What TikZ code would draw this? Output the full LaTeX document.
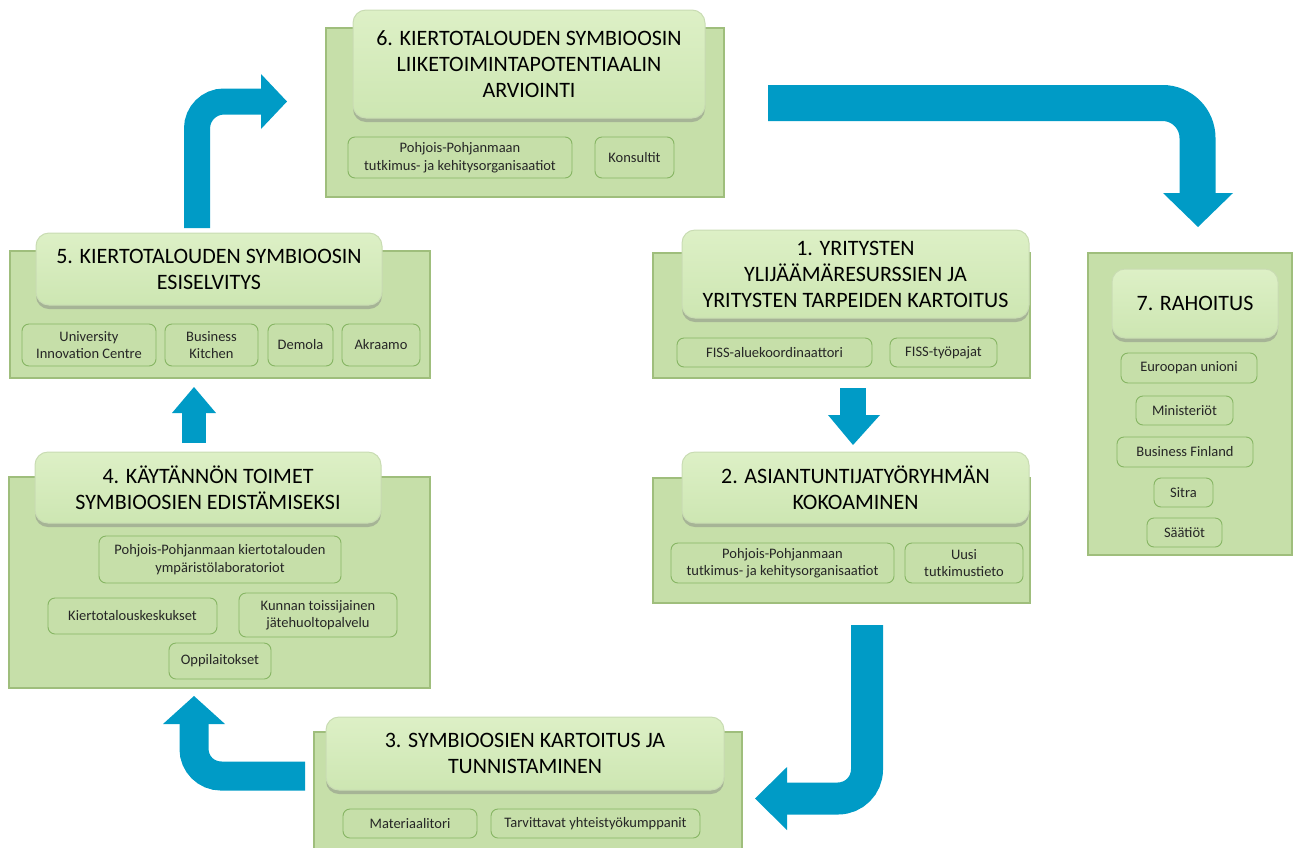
\documentclass[tikz,border=0pt]{standalone}
\usepackage{fontspec}
\setmainfont{Carlito}
\usetikzlibrary{fit,shadows}
\definecolor{panelfill}{HTML}{C6DFA9}
\definecolor{paneldraw}{HTML}{9FBE7C}
\definecolor{titletop}{HTML}{DDF0C6}
\definecolor{titlebot}{HTML}{CDE6B2}
\definecolor{titledraw}{HTML}{C9DCB3}
\definecolor{subdraw}{HTML}{86B563}
\definecolor{arrowblue}{HTML}{009BC6}
\tikzset{
  panel/.style={draw=paneldraw, line width=1.2pt, fill=panelfill, inner sep=0pt},
  titlebox/.style={draw=titledraw, line width=1pt, top color=titletop, bottom color=titlebot,
    rounded corners=13pt, inner sep=0pt, align=center, text=black,
    font=\fontsize{22}{26}\selectfont,
    drop shadow={opacity=0.45, shadow xshift=0pt, shadow yshift=-4pt}},
  subbox/.style={draw=subdraw, line width=0.9pt, fill=panelfill, rounded corners=7pt,
    inner sep=0pt, align=center, text=black!85, font=\fontsize{14.5}{17.5}\selectfont},
  shaft/.style={draw=arrowblue, line cap=butt},
  head/.style={fill=arrowblue, draw=none}
}
\begin{document}
\begin{tikzpicture}[x=1pt,y=-1pt]
\useasboundingbox (0,0) rectangle (1293,847);

% ---------- panels ----------
\node[panel, fit={(326,28)(724,197)}] (p6) {};
\node[panel, fit={(10,251)(430,378)}] (p5) {};
\node[panel, fit={(653,253)(1030,378)}] (p1) {};
\node[panel, fit={(1088,253)(1292,555)}] (p7) {};
\node[panel, fit={(9,477)(430,688)}] (p4) {};
\node[panel, fit={(653,478)(1030,603)}] (p2) {};
\node[panel, fit={(314,732)(742,870)}] (p3) {};

% ---------- titles ----------
\node[titlebox, fit={(353,10)(705,118)}] (t6) {};
\node at (t6.center) [align=center, font=\fontsize{22}{26}\selectfont] {6. KIERTOTALOUDEN SYMBIOOSIN\\LIIKETOIMINTAPOTENTIAALIN\\ARVIOINTI};
\node[titlebox, fit={(36,233)(382,305)}] (t5) {};
\node at (t5.center) [align=center, font=\fontsize{22}{26}\selectfont] {5. KIERTOTALOUDEN SYMBIOOSIN\\ESISELVITYS};
\node[titlebox, fit={(682,230)(1029,318)}] (t1) {};
\node at (t1.center) [align=center, font=\fontsize{22}{26}\selectfont] {1. YRITYSTEN\\YLIJÄÄMÄRESURSSIEN JA\\YRITYSTEN TARPEIDEN KARTOITUS};
\node[titlebox, fit={(1112,269)(1278,338)}] (t7) {};
\node at (t7.center) [font=\fontsize{22}{26}\selectfont] {7. RAHOITUS};
\node[titlebox, fit={(35,452)(381,523)}] (t4) {};
\node at (t4.center) [align=center, font=\fontsize{22}{26}\selectfont] {4. KÄYTÄNNÖN TOIMET\\SYMBIOOSIEN EDISTÄMISEKSI};
\node[titlebox, fit={(682,452)(1029,523)}] (t2) {};
\node at (t2.center) [align=center, font=\fontsize{22}{26}\selectfont] {2. ASIANTUNTIJATYÖRYHMÄN\\KOKOAMINEN};
\node[titlebox, fit={(326,717)(724,790)}] (t3) {};
\node at (t3.center) [align=center, font=\fontsize{22}{26}\selectfont] {3. SYMBIOOSIEN KARTOITUS JA\\TUNNISTAMINEN};

% ---------- sub boxes ----------
\node[subbox, fit={(348,137)(572,178)}] (s6a) {};
\node at (s6a.center) [subbox, draw=none, fill=none] {Pohjois-Pohjanmaan\\tutkimus- ja kehitysorganisaatiot};
\node[subbox, fit={(595,137)(674,178)}] (s6b) {};
\node at (s6b.center) [subbox, draw=none, fill=none] {Konsultit};

\node[subbox, fit={(22,324)(156,366)}] (s5a) {};
\node at (s5a.center) [subbox, draw=none, fill=none] {University\\Innovation Centre};
\node[subbox, fit={(165,324)(258,366)}] (s5b) {};
\node at (s5b.center) [subbox, draw=none, fill=none] {Business\\Kitchen};
\node[subbox, fit={(268,324)(333,366)}] (s5c) {};
\node at (s5c.center) [subbox, draw=none, fill=none] {Demola};
\node[subbox, fit={(342,324)(420,366)}] (s5d) {};
\node at (s5d.center) [subbox, draw=none, fill=none] {Akraamo};

\node[subbox, fit={(677,338)(872,367)}] (s1a) {};
\node at (s1a.center) [subbox, draw=none, fill=none] {FISS-aluekoordinaattori};
\node[subbox, fit={(890,338)(997,367)}] (s1b) {};
\node at (s1b.center) [subbox, draw=none, fill=none] {FISS-työpajat};

\node[subbox, fit={(1121,353)(1257,383)}] (s7a) {};
\node at (s7a.center) [subbox, draw=none, fill=none] {Euroopan unioni};
\node[subbox, fit={(1136,396)(1233,425)}] (s7b) {};
\node at (s7b.center) [subbox, draw=none, fill=none] {Ministeriöt};
\node[subbox, fit={(1117,437)(1253,467)}] (s7c) {};
\node at (s7c.center) [subbox, draw=none, fill=none] {Business Finland};
\node[subbox, fit={(1154,478)(1213,507)}] (s7d) {};
\node at (s7d.center) [subbox, draw=none, fill=none] {Sitra};
\node[subbox, fit={(1147,518)(1222,547)}] (s7e) {};
\node at (s7e.center) [subbox, draw=none, fill=none] {Säätiöt};

\node[subbox, fit={(99,536)(341,583)}] (s4a) {};
\node at (s4a.center) [subbox, draw=none, fill=none] {Pohjois-Pohjanmaan kiertotalouden\\ympäristölaboratoriot};
\node[subbox, fit={(48,598)(217,634)}] (s4b) {};
\node at (s4b.center) [subbox, draw=none, fill=none] {Kiertotalouskeskukset};
\node[subbox, fit={(239,593)(397,637)}] (s4c) {};
\node at (s4c.center) [subbox, draw=none, fill=none] {Kunnan toissijainen\\jätehuoltopalvelu};
\node[subbox, fit={(169,643)(271,679)}] (s4d) {};
\node at (s4d.center) [subbox, draw=none, fill=none] {Oppilaitokset};

\node[subbox, fit={(671,543)(894,583)}] (s2a) {};
\node at (s2a.center) [subbox, draw=none, fill=none] {Pohjois-Pohjanmaan\\tutkimus- ja kehitysorganisaatiot};
\node[subbox, fit={(905,543)(1023,583)}] (s2b) {};
\node at (s2b.center) [subbox, draw=none, fill=none] {Uusi\\tutkimustieto};

\node[subbox, fit={(343,809)(477,838)}] (s3a) {};
\node at (s3a.center) [subbox, draw=none, fill=none] {Materiaalitori};
\node[subbox, fit={(491,809)(700,838)}] (s3b) {};
\node at (s3b.center) [subbox, draw=none, fill=none] {Tarvittavat yhteistyökumppanit};

% ---------- arrows ----------
% 5 -> 6
\coordinate (a5s) at (197,228);
\coordinate (a5c) at (197,101.5);
\coordinate (a5e) at (262,101.5);
\draw[shaft, line width=26pt, rounded corners=27pt] (a5s) -- (a5c) -- (a5e);
\fill[head] (261,74) -- (287,101.5) -- (261,129) -- cycle;

% 6 -> 7
\coordinate (a6s) at (768,103);
\coordinate (a6c) at (1197.5,103);
\coordinate (a6e) at (1197.5,194);
\draw[shaft, line width=36pt, rounded corners=35pt] (a6s) -- (a6c) -- (a6e);
\fill[head] (1163,193) -- (1233,193) -- (1198,227) -- cycle;

% 1 -> 2
\coordinate (a1s) at (853,388);
\coordinate (a1e) at (853,416);
\draw[shaft, line width=26pt] (a1s) -- (a1e);
\fill[head] (828,415) -- (880,415) -- (853,445) -- cycle;

% 2 -> 3
\coordinate (a2s) at (867,625);
\coordinate (a2c) at (867,798.5);
\coordinate (a2e) at (786,798.5);
\draw[shaft, line width=32pt, rounded corners=29pt] (a2s) -- (a2c) -- (a2e);
\fill[head] (787,767) -- (787,830) -- (755,798.5) -- cycle;

% 3 -> 4
\coordinate (a3s) at (305,776);
\coordinate (a3c) at (194,776);
\coordinate (a3e) at (194,723);
\draw[shaft, line width=29pt, rounded corners=27pt] (a3s) -- (a3c) -- (a3e);
\fill[head] (163,724) -- (225,724) -- (194,696) -- cycle;

% 4 -> 5
\coordinate (a4s) at (194,443);
\coordinate (a4e) at (194,412);
\draw[shaft, line width=24pt] (a4s) -- (a4e);
\fill[head] (172,413) -- (216,413) -- (194,387) -- cycle;
\end{tikzpicture}
\end{document}
